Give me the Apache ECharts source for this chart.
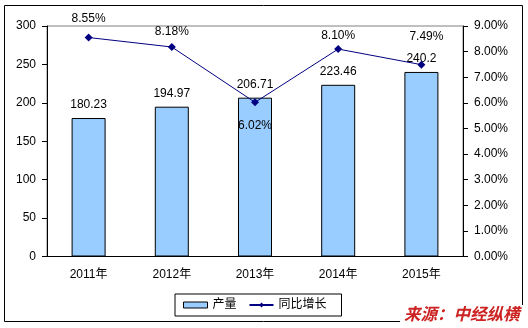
<!DOCTYPE html>
<html><head><meta charset="utf-8">
<script src="https://cdn.jsdelivr.net/npm/echarts@6/dist/echarts.min.js"></script>
<style>html,body{margin:0;padding:0;background:#fff}#c{width:528px;height:328px}</style>
</head><body><div id="c"></div>
<script>
var categories = ['2011年','2012年','2013年','2014年','2015年'];
var output = [180.23, 194.97, 206.71, 223.46, 240.2];
var growth = [8.55, 8.18, 6.02, 8.10, 7.49];
var leftTicks = [0, 300, 50];
var rightTicks = [0, 9, 1];
var seriesNames = ['产量', '同比增长'];
var sourceText = '来源：中经纵横';

var FONT = '"Liberation Sans", Arial, "Noto Sans CJK SC", sans-serif';
var lineLabelCfg = [
  {position:'top', distance:9},
  {position:'top', distance:5},
  {position:'bottom', distance:13},
  {position:'top', distance:3},
  {position:'top', distance:18, offset:[5,0]}
];
var chart = echarts.init(document.getElementById('c'));
chart.setOption({
  animation:false,
  textStyle:{fontFamily:FONT},
  grid:{left:47, right:65, top:26, bottom:71.5, show:true, borderColor:'#808080', borderWidth:1},
  legend:{
    left:175, top:294, padding:[5,15,5,8], itemGap:12,
    borderColor:'#000', borderWidth:1, borderRadius:0,
    itemWidth:24, itemHeight:6,
    textStyle:{fontSize:12, color:'#000', fontFamily:FONT},
    data:[{name:seriesNames[0], icon:'rect', itemStyle:{borderColor:'#000', borderWidth:1}}, {name:seriesNames[1]}]
  },
  xAxis:{
    type:'category', data:categories, boundaryGap:true,
    axisLine:{lineStyle:{color:'#000', width:1}},
    axisTick:{inside:true, length:4, lineStyle:{color:'#000'}},
    axisLabel:{color:'#000', fontSize:12, margin:12, fontFamily:FONT}
  },
  yAxis:[
    {type:'value', min:leftTicks[0], max:leftTicks[1], interval:leftTicks[2],
     axisLine:{show:true, lineStyle:{color:'#000'}},
     axisTick:{show:true, length:5, lineStyle:{color:'#000'}},
     splitLine:{show:false},
     axisLabel:{color:'#000', fontSize:12, margin:11, fontFamily:FONT}},
    {type:'value', min:rightTicks[0], max:rightTicks[1], interval:rightTicks[2], position:'right',
     axisLine:{show:true, lineStyle:{color:'#000'}},
     axisTick:{show:true, length:5, lineStyle:{color:'#000'}},
     splitLine:{show:false},
     axisLabel:{color:'#000', fontSize:12, margin:11, fontFamily:FONT, formatter:function(v){return v.toFixed(2)+'%';}}}
  ],
  series:[
    {name:seriesNames[0], type:'bar', data:output, barWidth:34, yAxisIndex:0,
     itemStyle:{color:'#99CCFF', borderColor:'#000', borderWidth:1},
     label:{show:true, position:'top', distance:7, color:'#000', fontSize:12, fontFamily:FONT,
            formatter:function(p){return String(p.value);}}},
    {name:seriesNames[1], type:'line', yAxisIndex:1,
     data:growth.map(function(v,i){return {value:v, label:lineLabelCfg[i]};}),
     symbol:'diamond', symbolSize:8,
     lineStyle:{color:'#000080', width:1}, itemStyle:{color:'#000080'},
     label:{show:true, color:'#000', fontSize:12, fontFamily:FONT,
            formatter:function(p){return p.value.toFixed(2)+'%';}}}
  ],
  graphic:[
    {type:'rect', shape:{x:4.5, y:5.5, width:518, height:316}, style:{fill:null, stroke:'#000', lineWidth:1}, z:-1},
    {type:'rect', shape:{x:400, y:305, width:127, height:22}, style:{fill:'#fff'}, z:50},
    {type:'text', left:404, top:305, z:51,
     style:{text:sourceText, fill:'#CC2222', font:'italic bold 16.5px "Noto Sans CJK SC", sans-serif'}}
  ]
});
</script></body></html>
